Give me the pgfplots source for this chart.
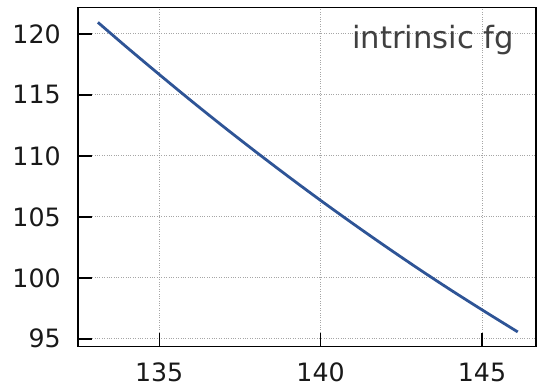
\documentclass[border=0pt]{standalone}
\usepackage{fontspec}
\setmainfont{DejaVu Sans}
\usepackage{pgfplots}
\pgfplotsset{compat=1.18}
\definecolor{lineblue}{RGB}{46,84,150}
\definecolor{txtgray}{RGB}{64,64,64}
\begin{document}
\begin{tikzpicture}
\begin{axis}[
  at={(0,0)}, anchor=south west,
  scale only axis,
  width=459bp, height=339.5bp,
  xmin=132.48, xmax=146.68,
  ymin=94.37, ymax=122.17,
  xtick={135,140,145},
  ytick={95,100,105,110,115,120},
  tick align=inside,
  xtick pos=bottom, ytick pos=left,
  major tick length=14bp,
  axis line style={line width=1.6bp, black},
  tick style={line width=1.4bp, black},
  grid=major,
  major grid style={gray!70, dotted, line width=0.9bp},
  /pgf/number format/assume math mode=true,
  tick label style={font=\fontsize{25.3bp}{29bp}\selectfont, inner sep=0pt, text=black!90},
  xticklabel style={yshift=-16bp},
  yticklabel style={xshift=-17bp},
  clip=false,
]
\addplot[lineblue, line width=2.8bp, smooth] coordinates {
(133.1,120.95) (134,118.90) (135,116.68) (136,114.50) (137,112.38) (138,110.32)
(139,108.31) (140,106.35) (141,104.45) (142,102.60) (143,100.80) (144,99.06)
(145,97.38) (146,95.74) (146.1,95.58)
};
\node[anchor=base east, inner sep=0pt, text=txtgray, font=\fontsize{30.7bp}{35bp}\selectfont] at (rel axis cs:0.952,0.880) {intrinsic fg};
\end{axis}
\path[use as bounding box] (-78bp,-41bp) rectangle (459bp,347bp);
\end{tikzpicture}
\end{document}
